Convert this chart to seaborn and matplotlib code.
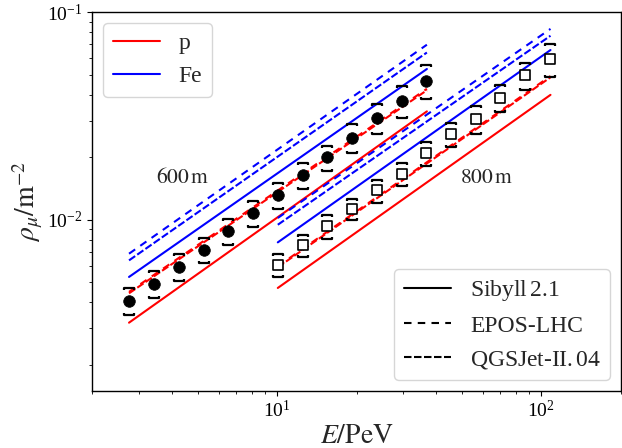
import numpy as np
import pandas as pd
import matplotlib
matplotlib.use("Agg")
import matplotlib.pyplot as plt
from matplotlib.path import Path
from matplotlib.lines import Line2D
from matplotlib.ticker import NullFormatter
import seaborn as sns

# ---------------- data ----------------
E600 = [2.75, 3.41, 4.24, 5.27, 6.53, 8.11, 10.06, 12.5, 15.5, 19.2, 23.8, 29.6, 36.7]
rho600 = [0.00408, 0.00491, 0.00593, 0.00718, 0.00879, 0.0108, 0.0132,
          0.0164, 0.0200, 0.0249, 0.0310, 0.0375, 0.0468]
err600 = [0.15, 0.15, 0.15, 0.14, 0.145, 0.145, 0.145, 0.14, 0.14, 0.16, 0.165, 0.175, 0.185]

E800 = [10.06, 12.5, 15.5, 19.2, 23.8, 29.6, 36.7, 45.5, 56.4, 70.0, 86.5, 108.0]
rho800 = [0.00608, 0.00752, 0.00929, 0.0113, 0.01384, 0.01665, 0.0209,
          0.0259, 0.0306, 0.0387, 0.0496, 0.0596]
err800 = [0.13, 0.12, 0.13, 0.12, 0.125, 0.13, 0.13, 0.13, 0.15, 0.15, 0.15, 0.185]

# model predictions (power laws, endpoints)
E600_line = [2.75, 36.9]
p_sib_600 = [0.00319, 0.0333]
p_epos_600 = [0.00449, 0.0428]
p_qgs_600 = [0.00442, 0.0421]
fe_sib_600 = [0.00530, 0.0533]
fe_epos_600 = [0.00686, 0.0698]
fe_qgs_600 = [0.00637, 0.0640]

E800_line = [10.06, 108.4]
p_sib_800 = [0.00469, 0.0400]
p_epos_800 = [0.00597, 0.0493]
p_qgs_800 = [0.00590, 0.0486]
fe_sib_800 = [0.00778, 0.0658]
fe_epos_800 = [0.0102, 0.0832]
fe_qgs_800 = [0.00946, 0.0771]

compositions = ["p", "Fe"]
models = ["Sibyll", "EPOS", "QGS"]
model_labels = [r"Sibyll$\,$2.1", "EPOS-LHC", r"QGSJet-II.$\,$04"]
dist_labels = [r"$600\,\mathrm{m}$", r"$800\,\mathrm{m}$"]

# ---------------- style ----------------
sns.set_style("ticks")
plt.rcParams.update({
    "font.family": ["Liberation Serif", "DejaVu Serif"],
    "mathtext.fontset": "stix",
    "axes.edgecolor": "black",
    "axes.linewidth": 1.0,
    "xtick.color": "black",
    "ytick.color": "black",
    "xtick.direction": "out",
    "ytick.direction": "out",
    "xtick.major.size": 3.5,
    "ytick.major.size": 3.5,
    "xtick.minor.size": 2.0,
    "ytick.minor.size": 2.0,
    "legend.frameon": True,
})

rows = []
line_sets = {
    600: (E600_line, {("p", "Sibyll"): p_sib_600, ("p", "EPOS"): p_epos_600, ("p", "QGS"): p_qgs_600,
                      ("Fe", "Sibyll"): fe_sib_600, ("Fe", "EPOS"): fe_epos_600, ("Fe", "QGS"): fe_qgs_600}),
    800: (E800_line, {("p", "Sibyll"): p_sib_800, ("p", "EPOS"): p_epos_800, ("p", "QGS"): p_qgs_800,
                      ("Fe", "Sibyll"): fe_sib_800, ("Fe", "EPOS"): fe_epos_800, ("Fe", "QGS"): fe_qgs_800}),
}
for dist, (Es, d) in line_sets.items():
    for (comp, model), vals in d.items():
        for e, v in zip(Es, vals):
            rows.append(dict(E=e, rho=v, comp=comp, model=model, unit=f"{dist}-{comp}-{model}"))
df_lines = pd.DataFrame(rows)

palette = {"p": "#ff0000", "Fe": "#0000ff"}
dash_map = {"Sibyll": "", "EPOS": (3.6, 3.0), "QGS": (3.6, 1.2)}

fig = plt.figure(figsize=(6.22, 4.48), dpi=100)
ax = fig.add_axes([0.1487, 0.128, 0.8493, 0.8445])
ax.set_xscale("log")
ax.set_yscale("log")

sns.lineplot(data=df_lines, x="E", y="rho", hue="comp", style="model", units="unit",
             estimator=None, sort=False, palette=palette, dashes=dash_map,
             linewidth=1.5, legend=False, ax=ax, zorder=2)

# systematic-error brackets
upper_cap = Path([(-1, -0.3), (-1, 0), (1, 0), (1, -0.3)],
                 [Path.MOVETO, Path.LINETO, Path.LINETO, Path.LINETO])
lower_cap = Path([(-1, 0.3), (-1, 0), (1, 0), (1, 0.3)],
                 [Path.MOVETO, Path.LINETO, Path.LINETO, Path.LINETO])
for Es, rs, es in [(E600, rho600, err600), (E800, rho800, err800)]:
    Es = np.asarray(Es); rs = np.asarray(rs); es = np.asarray(es)
    ax.plot(Es, rs * (1 + es), ls="none", marker=upper_cap, ms=7.5, mfc="none",
            mec="black", mew=1.6, zorder=3)
    ax.plot(Es, rs * (1 - es), ls="none", marker=lower_cap, ms=7.5, mfc="none",
            mec="black", mew=1.6, zorder=3)

df600 = pd.DataFrame(dict(E=E600, rho=rho600))
df800 = pd.DataFrame(dict(E=E800, rho=rho800))
sns.scatterplot(data=df600, x="E", y="rho", marker="o", s=70, color="black",
                edgecolor="black", linewidth=0.5, ax=ax, zorder=4)
sns.scatterplot(data=df800, x="E", y="rho", marker="s", s=56, facecolor="white",
                edgecolor="black", linewidth=1.2, ax=ax, zorder=4)

ax.set_xlim(2.0, 200)
ax.set_ylim(1.5e-3, 0.1)
ax.xaxis.set_minor_formatter(NullFormatter())
ax.yaxis.set_minor_formatter(NullFormatter())
ax.tick_params(axis="both", which="major", labelsize=14)
ax.set_xlabel(r"$E/\mathrm{PeV}$", fontsize=20, labelpad=2)
ax.set_ylabel(r"$\rho_\mu/\mathrm{m}^{-2}$", fontsize=20, labelpad=2)

ax.text(0.170, 0.562, dist_labels[0], transform=ax.transAxes, fontsize=15.5,
        ha="center", va="center")
ax.text(0.746, 0.562, dist_labels[1], transform=ax.transAxes, fontsize=15.5,
        ha="center", va="center")

comp_handles = [Line2D([], [], color=palette[c], lw=1.5) for c in compositions]
leg1 = ax.legend(comp_handles, compositions, loc="upper left", fontsize=17,
                 handlelength=2.0, frameon=True, fancybox=True, framealpha=0.8,
                 edgecolor="#cccccc", borderaxespad=0.45)
ax.add_artist(leg1)
model_handles = []
for m in models:
    if dash_map[m] == "":
        model_handles.append(Line2D([], [], color="black", lw=1.5))
    else:
        model_handles.append(Line2D([], [], color="black", lw=1.5,
                                    dashes=dash_map[m]))
ax.legend(model_handles, model_labels, loc="lower right", fontsize=17,
          handlelength=2.0, frameon=True, fancybox=True, framealpha=0.8,
          edgecolor="#cccccc", borderaxespad=0.45)

fig.savefig("out.png", dpi=100)
